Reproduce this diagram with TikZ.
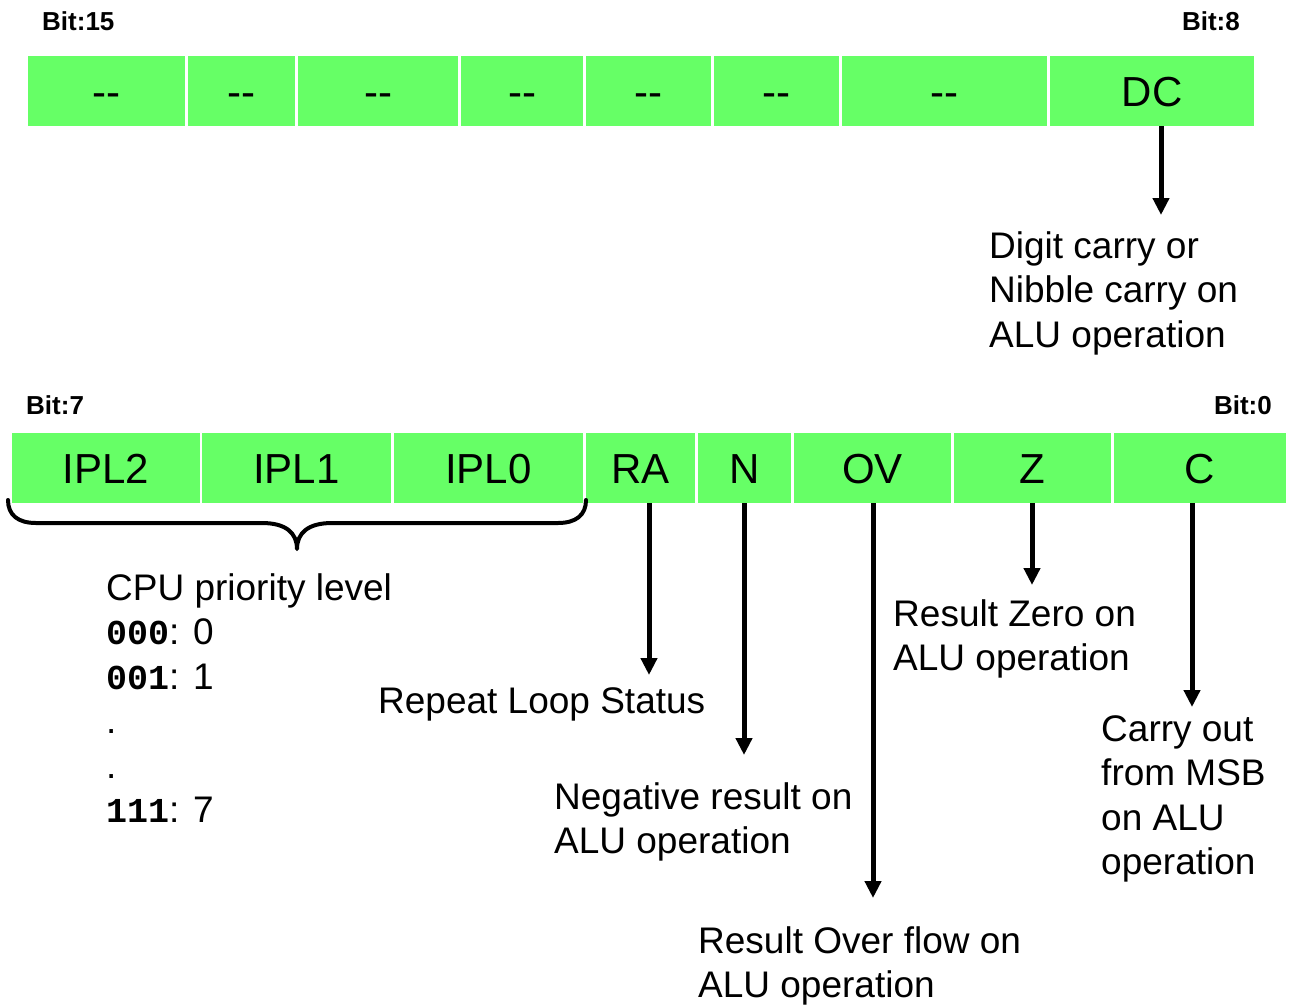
\documentclass[tikz,border=0pt]{standalone}
\usepackage{fontspec}
\setmainfont{Liberation Sans}
\newfontfamily\regmono{Liberation Mono}
\usetikzlibrary{arrows.meta}

\definecolor{regfill}{RGB}{102,255,102}
\newcommand\codetxt[1]{{\regmono\bfseries\fontsize{35}{44.5}\selectfont #1}}
\newcommand\nobit{-\kern0pt-}

\begin{document}
\begin{tikzpicture}[x=1pt,y=-1pt,
  cell/.style={fill=regfill, inner sep=0pt, minimum height=70pt,
    text height=30pt, text depth=0pt, font=\fontsize{42}{50}\selectfont},
  bitlbl/.style={inner sep=0pt, font=\fontsize{26}{30}\selectfont\bfseries},
  desc/.style={inner sep=0pt, align=left, font=\fontsize{37}{44.5}\selectfont},
  flag/.style={line width=5pt, -{Triangle[length=17pt,width=16pt]}},
  brace/.style={line width=4pt, line cap=round, line join=round}]

\useasboundingbox (0,0) rectangle (1289,1004);

% upper byte: bits 15..8
\node[cell, minimum width=157pt] (b15) at (106.5,91) {\nobit};
\node[cell, minimum width=107pt] (b14) at (241.5,91) {\nobit};
\node[cell, minimum width=160pt] (b13) at (378,91)   {\nobit};
\node[cell, minimum width=122pt] (b12) at (522,91)   {\nobit};
\node[cell, minimum width=125pt] (b11) at (648.5,91) {\nobit};
\node[cell, minimum width=125pt] (b10) at (776.5,91) {\nobit};
\node[cell, minimum width=205pt] (b9)  at (944.5,91) {\nobit};
\node[cell, minimum width=204pt] (dc)  at (1152,91)  {DC};

\node[bitlbl, anchor=base west] (bit15) at (42,30)   {Bit:15};
\node[bitlbl, anchor=base east] (bit8)  at (1240,30) {Bit:8};

% lower byte: bits 7..0
\node[cell, minimum width=188pt] (ipl2) at (106,468)   {IPL2};
\node[cell, minimum width=189pt] (ipl1) at (296.5,468) {IPL1};
\node[cell, minimum width=189pt] (ipl0) at (488.5,468) {IPL0};
\node[cell, minimum width=109pt] (ra)   at (640.5,468) {RA};
\node[cell, minimum width=93pt]  (n)    at (744.5,468) {N};
\node[cell, minimum width=157pt] (ov)   at (872.5,468) {OV};
\node[cell, minimum width=157pt] (z)    at (1032.5,468) {Z};
\node[cell, minimum width=172pt] (c)    at (1200,468)  {C};

\node[bitlbl, anchor=base west] (bit7) at (26,414)   {Bit:7};
\node[bitlbl, anchor=base east] (bit0) at (1272,414) {Bit:0};

% brace under the three priority bits
\draw[brace] (8,500) .. controls (8,515) and (18,523) .. (36,523)
  -- (262,523) .. controls (286,523) and (297,533) .. (297,549)
  .. controls (297,533) and (308,523) .. (332,523)
  -- (558,523) .. controls (576,523) and (586,515) .. (586,500);

% descriptions
\node[desc, anchor=north west] (dcTxt) at (989,231)
  {Digit carry or\\Nibble carry on\\ALU operation};
\node[desc, anchor=north west] (cpuTxt) at (106,573)
  {CPU priority level\\\codetxt{000}: 0\\\codetxt{001}: 1\\.\\.\\\codetxt{111}: 7};
\node[desc, anchor=base west] (raTxt) at (378,713) {Repeat Loop Status};
\node[desc, anchor=north west] (nTxt) at (554,782)
  {Negative result on\\ALU operation};
\node[desc, anchor=north west] (ovTxt) at (698,926)
  {Result Over flow on\\ALU operation};
\node[desc, anchor=north west] (zTxt) at (893,599)
  {Result Zero on\\ALU operation};
\node[desc, anchor=north west] (cTxt) at (1101,715)
  {Carry out\\from MSB\\on ALU\\operation};

% flag arrows
\coordinate (dcEnd) at (1161,215);
\coordinate (raEnd) at (649,675);
\coordinate (nEnd)  at (744,755);
\coordinate (ovEnd) at (873,898);
\coordinate (zEnd)  at (1032,585);
\coordinate (cEnd)  at (1192,707);

\draw[flag] (dc.south -| dcEnd) -- (dcEnd);
\draw[flag] (ra.south -| raEnd) -- (raEnd);
\draw[flag] (n.south -| nEnd)   -- (nEnd);
\draw[flag] (ov.south -| ovEnd) -- (ovEnd);
\draw[flag] (z.south -| zEnd)   -- (zEnd);
\draw[flag] (c.south -| cEnd)   -- (cEnd);
\end{tikzpicture}
\end{document}
